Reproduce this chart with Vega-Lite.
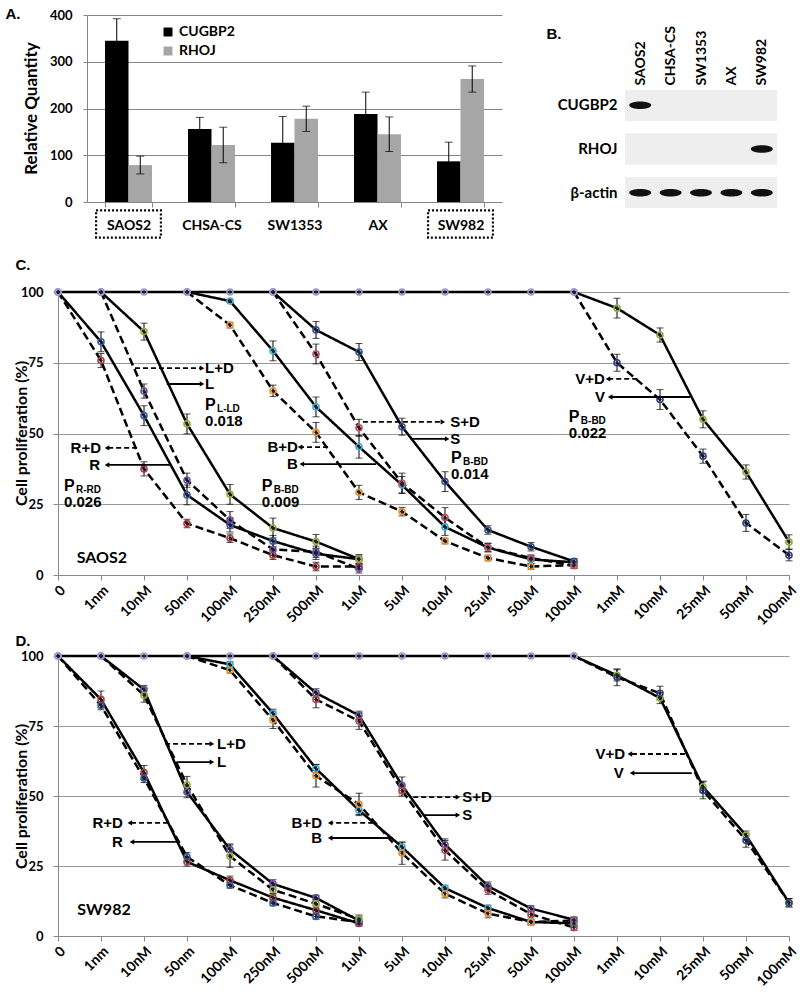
{
  "$schema": "https://vega.github.io/schema/vega-lite/v6.json",
  "padding": {"left": 4, "top": 6, "right": 0, "bottom": 0},
  "background": "white",
  "config": {
    "view": {"stroke": null},
    "font": "Lato",
    "axis": {"labelFont": "Lato", "titleFont": "Lato", "labelFontWeight": "bold", "titleFontWeight": "bold", "labelColor": "#000", "titleColor": "#000"},
    "legend": {"labelFont": "Lato", "labelFontWeight": "bold", "labelColor": "#000"}
  },
  "resolve": {"scale": {"color": "independent", "strokeDash": "independent", "opacity": "independent", "shape": "independent"}, "legend": {"color": "independent"}},
  "datasets": {
    "bars": [
      {"cell": "SAOS2", "gene": "CUGBP2", "value": 345, "err": 47},
      {"cell": "SAOS2", "gene": "RHOJ", "value": 79, "err": 19},
      {"cell": "CHSA-CS", "gene": "CUGBP2", "value": 156, "err": 25},
      {"cell": "CHSA-CS", "gene": "RHOJ", "value": 122, "err": 38},
      {"cell": "SW1353", "gene": "CUGBP2", "value": 127, "err": 56},
      {"cell": "SW1353", "gene": "RHOJ", "value": 178, "err": 27},
      {"cell": "AX", "gene": "CUGBP2", "value": 188, "err": 47},
      {"cell": "AX", "gene": "RHOJ", "value": 145, "err": 37},
      {"cell": "SW982", "gene": "CUGBP2", "value": 87, "err": 41},
      {"cell": "SW982", "gene": "RHOJ", "value": 263, "err": 28}
    ],
    "blot": [
      {"protein": "CUGBP2", "cell": "SAOS2", "level": 1},
      {"protein": "CUGBP2", "cell": "CHSA-CS", "level": 0},
      {"protein": "CUGBP2", "cell": "SW1353", "level": 0},
      {"protein": "CUGBP2", "cell": "AX", "level": 0},
      {"protein": "CUGBP2", "cell": "SW982", "level": 0},
      {"protein": "RHOJ", "cell": "SAOS2", "level": 0},
      {"protein": "RHOJ", "cell": "CHSA-CS", "level": 0},
      {"protein": "RHOJ", "cell": "SW1353", "level": 0},
      {"protein": "RHOJ", "cell": "AX", "level": 0},
      {"protein": "RHOJ", "cell": "SW982", "level": 1},
      {"protein": "β-actin", "cell": "SAOS2", "level": 1},
      {"protein": "β-actin", "cell": "CHSA-CS", "level": 1},
      {"protein": "β-actin", "cell": "SW1353", "level": 1},
      {"protein": "β-actin", "cell": "AX", "level": 1},
      {"protein": "β-actin", "cell": "SW982", "level": 1}
    ],
    "survC": [
      {"series": "R", "conc": "0", "value": 100, "err": 0},
      {"series": "R", "conc": "1nm", "value": 82.4, "err": 3.5},
      {"series": "R", "conc": "10nM", "value": 56.3, "err": 3.5},
      {"series": "R", "conc": "50nm", "value": 28.3, "err": 3.5},
      {"series": "R", "conc": "100nM", "value": 17.7, "err": 2.5},
      {"series": "R", "conc": "250nM", "value": 12, "err": 2},
      {"series": "R", "conc": "500nM", "value": 7.5, "err": 2},
      {"series": "R", "conc": "1uM", "value": 5.6, "err": 1.5},
      {"series": "R+D", "conc": "0", "value": 100, "err": 0},
      {"series": "R+D", "conc": "1nm", "value": 75.8, "err": 2.5},
      {"series": "R+D", "conc": "10nM", "value": 37.5, "err": 2.5},
      {"series": "R+D", "conc": "50nm", "value": 18.2, "err": 1.5},
      {"series": "R+D", "conc": "100nM", "value": 13, "err": 1.5},
      {"series": "R+D", "conc": "250nM", "value": 7, "err": 1.5},
      {"series": "R+D", "conc": "500nM", "value": 3, "err": 1.5},
      {"series": "R+D", "conc": "1uM", "value": 3, "err": 1},
      {"series": "L", "conc": "1nm", "value": 100, "err": 0},
      {"series": "L", "conc": "10nM", "value": 86, "err": 3},
      {"series": "L", "conc": "50nm", "value": 53.4, "err": 3.5},
      {"series": "L", "conc": "100nM", "value": 28.5, "err": 3.5},
      {"series": "L", "conc": "250nM", "value": 16.6, "err": 3.5},
      {"series": "L", "conc": "500nM", "value": 11.8, "err": 2.5},
      {"series": "L", "conc": "1uM", "value": 5.6, "err": 1.5},
      {"series": "L+D", "conc": "1nm", "value": 100, "err": 0},
      {"series": "L+D", "conc": "10nM", "value": 65, "err": 2.5},
      {"series": "L+D", "conc": "50nm", "value": 33.5, "err": 2.5},
      {"series": "L+D", "conc": "100nM", "value": 19.4, "err": 3},
      {"series": "L+D", "conc": "250nM", "value": 9, "err": 2},
      {"series": "L+D", "conc": "500nM", "value": 8.2, "err": 2},
      {"series": "L+D", "conc": "1uM", "value": 2.2, "err": 1.5},
      {"series": "B", "conc": "50nm", "value": 100, "err": 0},
      {"series": "B", "conc": "100nM", "value": 96.8, "err": 0.5},
      {"series": "B", "conc": "250nM", "value": 79.2, "err": 3.5},
      {"series": "B", "conc": "500nM", "value": 59.4, "err": 3.5},
      {"series": "B", "conc": "1uM", "value": 45.3, "err": 4},
      {"series": "B", "conc": "5uM", "value": 31.8, "err": 3},
      {"series": "B", "conc": "10uM", "value": 17, "err": 3},
      {"series": "B", "conc": "25uM", "value": 9.7, "err": 1.5},
      {"series": "B", "conc": "50uM", "value": 5.5, "err": 1.5},
      {"series": "B", "conc": "100uM", "value": 4.5, "err": 1},
      {"series": "B+D", "conc": "50nm", "value": 100, "err": 0},
      {"series": "B+D", "conc": "100nM", "value": 88.3, "err": 1},
      {"series": "B+D", "conc": "250nM", "value": 65.1, "err": 2},
      {"series": "B+D", "conc": "500nM", "value": 50.4, "err": 3.5},
      {"series": "B+D", "conc": "1uM", "value": 29.2, "err": 2.5},
      {"series": "B+D", "conc": "5uM", "value": 22.4, "err": 1.5},
      {"series": "B+D", "conc": "10uM", "value": 12, "err": 1},
      {"series": "B+D", "conc": "25uM", "value": 6, "err": 1},
      {"series": "B+D", "conc": "50uM", "value": 3, "err": 1},
      {"series": "B+D", "conc": "100uM", "value": 3.5, "err": 1},
      {"series": "S", "conc": "250nM", "value": 100, "err": 0},
      {"series": "S", "conc": "500nM", "value": 86.6, "err": 3},
      {"series": "S", "conc": "1uM", "value": 78.8, "err": 3},
      {"series": "S", "conc": "5uM", "value": 52.4, "err": 3},
      {"series": "S", "conc": "10uM", "value": 33, "err": 3.5},
      {"series": "S", "conc": "25uM", "value": 15.9, "err": 1.5},
      {"series": "S", "conc": "50uM", "value": 10, "err": 1.5},
      {"series": "S", "conc": "100uM", "value": 4.8, "err": 1},
      {"series": "S+D", "conc": "250nM", "value": 100, "err": 0},
      {"series": "S+D", "conc": "500nM", "value": 78.1, "err": 3.5},
      {"series": "S+D", "conc": "1uM", "value": 52, "err": 3},
      {"series": "S+D", "conc": "5uM", "value": 32.5, "err": 3.5},
      {"series": "S+D", "conc": "10uM", "value": 20.3, "err": 3.5},
      {"series": "S+D", "conc": "25uM", "value": 9.7, "err": 1.5},
      {"series": "S+D", "conc": "50uM", "value": 6, "err": 1},
      {"series": "S+D", "conc": "100uM", "value": 3.3, "err": 1},
      {"series": "V", "conc": "0", "value": 100, "err": 0},
      {"series": "V", "conc": "1nm", "value": 100, "err": 0},
      {"series": "V", "conc": "10nM", "value": 100, "err": 0},
      {"series": "V", "conc": "50nm", "value": 100, "err": 0},
      {"series": "V", "conc": "100nM", "value": 100, "err": 0},
      {"series": "V", "conc": "250nM", "value": 100, "err": 0},
      {"series": "V", "conc": "500nM", "value": 100, "err": 0},
      {"series": "V", "conc": "1uM", "value": 100, "err": 0},
      {"series": "V", "conc": "5uM", "value": 100, "err": 0},
      {"series": "V", "conc": "10uM", "value": 100, "err": 0},
      {"series": "V", "conc": "25uM", "value": 100, "err": 0},
      {"series": "V", "conc": "50uM", "value": 100, "err": 0},
      {"series": "V", "conc": "100uM", "value": 100, "err": 0},
      {"series": "V", "conc": "1mM", "value": 94.3, "err": 3.5},
      {"series": "V", "conc": "10mM", "value": 84.8, "err": 2.5},
      {"series": "V", "conc": "25mM", "value": 55, "err": 3},
      {"series": "V", "conc": "50mM", "value": 36.4, "err": 2.5},
      {"series": "V", "conc": "100mM", "value": 11.7, "err": 2.5},
      {"series": "V+D", "conc": "100uM", "value": 100, "err": 0},
      {"series": "V+D", "conc": "1mM", "value": 75, "err": 3},
      {"series": "V+D", "conc": "10mM", "value": 62, "err": 3.5},
      {"series": "V+D", "conc": "25mM", "value": 42, "err": 2.5},
      {"series": "V+D", "conc": "50mM", "value": 18.4, "err": 3},
      {"series": "V+D", "conc": "100mM", "value": 7, "err": 2}
    ],
    "survD": [
      {"series": "R", "conc": "0", "value": 100, "err": 0},
      {"series": "R", "conc": "1nm", "value": 84.5, "err": 3},
      {"series": "R", "conc": "10nM", "value": 58.4, "err": 2.5},
      {"series": "R", "conc": "50nm", "value": 26.5, "err": 1.5},
      {"series": "R", "conc": "100nM", "value": 19.9, "err": 1.5},
      {"series": "R", "conc": "250nM", "value": 13.7, "err": 1.5},
      {"series": "R", "conc": "500nM", "value": 9.2, "err": 1.5},
      {"series": "R", "conc": "1uM", "value": 4.5, "err": 1},
      {"series": "R+D", "conc": "0", "value": 100, "err": 0},
      {"series": "R+D", "conc": "1nm", "value": 82.3, "err": 1.5},
      {"series": "R+D", "conc": "10nM", "value": 56.3, "err": 1.5},
      {"series": "R+D", "conc": "50nm", "value": 28.3, "err": 1.5},
      {"series": "R+D", "conc": "100nM", "value": 18.1, "err": 1},
      {"series": "R+D", "conc": "250nM", "value": 11.8, "err": 1},
      {"series": "R+D", "conc": "500nM", "value": 7, "err": 1},
      {"series": "R+D", "conc": "1uM", "value": 5, "err": 1},
      {"series": "L", "conc": "1nm", "value": 100, "err": 0},
      {"series": "L", "conc": "10nM", "value": 88, "err": 1.5},
      {"series": "L", "conc": "50nm", "value": 51.4, "err": 2},
      {"series": "L", "conc": "100nM", "value": 30.9, "err": 2},
      {"series": "L", "conc": "250nM", "value": 18.6, "err": 1.5},
      {"series": "L", "conc": "500nM", "value": 13.6, "err": 1},
      {"series": "L", "conc": "1uM", "value": 5.5, "err": 1.5},
      {"series": "L+D", "conc": "1nm", "value": 100, "err": 0},
      {"series": "L+D", "conc": "10nM", "value": 86, "err": 2.5},
      {"series": "L+D", "conc": "50nm", "value": 54, "err": 3},
      {"series": "L+D", "conc": "100nM", "value": 28.5, "err": 4},
      {"series": "L+D", "conc": "250nM", "value": 16.5, "err": 1.5},
      {"series": "L+D", "conc": "500nM", "value": 11.5, "err": 1.5},
      {"series": "L+D", "conc": "1uM", "value": 6, "err": 1.5},
      {"series": "B", "conc": "50nm", "value": 100, "err": 0},
      {"series": "B", "conc": "100nM", "value": 97, "err": 1},
      {"series": "B", "conc": "250nM", "value": 79.5, "err": 1.5},
      {"series": "B", "conc": "500nM", "value": 59.8, "err": 1.5},
      {"series": "B", "conc": "1uM", "value": 44.9, "err": 1.5},
      {"series": "B", "conc": "5uM", "value": 31.8, "err": 1.5},
      {"series": "B", "conc": "10uM", "value": 17.1, "err": 1},
      {"series": "B", "conc": "25uM", "value": 10, "err": 1},
      {"series": "B", "conc": "50uM", "value": 5, "err": 1},
      {"series": "B", "conc": "100uM", "value": 4.5, "err": 1},
      {"series": "B+D", "conc": "50nm", "value": 100, "err": 0},
      {"series": "B+D", "conc": "100nM", "value": 94.9, "err": 1},
      {"series": "B+D", "conc": "250nM", "value": 77.1, "err": 3},
      {"series": "B+D", "conc": "500nM", "value": 57.2, "err": 4},
      {"series": "B+D", "conc": "1uM", "value": 47, "err": 4},
      {"series": "B+D", "conc": "5uM", "value": 29.6, "err": 4},
      {"series": "B+D", "conc": "10uM", "value": 15.1, "err": 1.5},
      {"series": "B+D", "conc": "25uM", "value": 8, "err": 1.5},
      {"series": "B+D", "conc": "50uM", "value": 5, "err": 1},
      {"series": "B+D", "conc": "100uM", "value": 5.5, "err": 1},
      {"series": "S", "conc": "250nM", "value": 100, "err": 0},
      {"series": "S", "conc": "500nM", "value": 86.8, "err": 1.5},
      {"series": "S", "conc": "1uM", "value": 78.8, "err": 1.5},
      {"series": "S", "conc": "5uM", "value": 53.8, "err": 3},
      {"series": "S", "conc": "10uM", "value": 32.7, "err": 2},
      {"series": "S", "conc": "25uM", "value": 17.8, "err": 1.5},
      {"series": "S", "conc": "50uM", "value": 9.8, "err": 1},
      {"series": "S", "conc": "100uM", "value": 5.8, "err": 1},
      {"series": "S+D", "conc": "250nM", "value": 100, "err": 0},
      {"series": "S+D", "conc": "500nM", "value": 84.5, "err": 3},
      {"series": "S+D", "conc": "1uM", "value": 76.8, "err": 3},
      {"series": "S+D", "conc": "5uM", "value": 52, "err": 2},
      {"series": "S+D", "conc": "10uM", "value": 30.6, "err": 3.5},
      {"series": "S+D", "conc": "25uM", "value": 16.4, "err": 1.5},
      {"series": "S+D", "conc": "50uM", "value": 7.8, "err": 1},
      {"series": "S+D", "conc": "100uM", "value": 3, "err": 1},
      {"series": "V", "conc": "0", "value": 100, "err": 0},
      {"series": "V", "conc": "1nm", "value": 100, "err": 0},
      {"series": "V", "conc": "10nM", "value": 100, "err": 0},
      {"series": "V", "conc": "50nm", "value": 100, "err": 0},
      {"series": "V", "conc": "100nM", "value": 100, "err": 0},
      {"series": "V", "conc": "250nM", "value": 100, "err": 0},
      {"series": "V", "conc": "500nM", "value": 100, "err": 0},
      {"series": "V", "conc": "1uM", "value": 100, "err": 0},
      {"series": "V", "conc": "5uM", "value": 100, "err": 0},
      {"series": "V", "conc": "10uM", "value": 100, "err": 0},
      {"series": "V", "conc": "25uM", "value": 100, "err": 0},
      {"series": "V", "conc": "50uM", "value": 100, "err": 0},
      {"series": "V", "conc": "100uM", "value": 100, "err": 0},
      {"series": "V", "conc": "1mM", "value": 93.1, "err": 2},
      {"series": "V", "conc": "10mM", "value": 85, "err": 2},
      {"series": "V", "conc": "25mM", "value": 53.3, "err": 2},
      {"series": "V", "conc": "50mM", "value": 36, "err": 1.5},
      {"series": "V", "conc": "100mM", "value": 11.9, "err": 1.5},
      {"series": "V+D", "conc": "100uM", "value": 100, "err": 0},
      {"series": "V+D", "conc": "1mM", "value": 92.4, "err": 3},
      {"series": "V+D", "conc": "10mM", "value": 86.7, "err": 2.5},
      {"series": "V+D", "conc": "25mM", "value": 52, "err": 3},
      {"series": "V+D", "conc": "50mM", "value": 34.2, "err": 2.5},
      {"series": "V+D", "conc": "100mM", "value": 11.9, "err": 1.5}
    ],
    "arrowsC": [
      {"from": 1.79, "to": 3.35, "y": 73.1, "style": "dashed"},
      {"from": 2.53, "to": 3.35, "y": 67.5, "style": "solid"},
      {"from": 1.84, "to": 1.14, "y": 44.9, "style": "dashed"},
      {"from": 2.65, "to": 1.14, "y": 38.9, "style": "solid"},
      {"from": 6.28, "to": 5.63, "y": 45.2, "style": "dashed"},
      {"from": 7.4, "to": 5.67, "y": 39.2, "style": "solid"},
      {"from": 7.09, "to": 8.95, "y": 54.1, "style": "dashed"},
      {"from": 8.23, "to": 9.05, "y": 48.1, "style": "solid"},
      {"from": 13.47, "to": 12.79, "y": 69.3, "style": "dashed"},
      {"from": 14.7, "to": 12.84, "y": 62.9, "style": "solid"}
    ],
    "arrowsD": [
      {"from": 2.49, "to": 3.58, "y": 68.6, "style": "dashed"},
      {"from": 2.77, "to": 3.58, "y": 62.1, "style": "solid"},
      {"from": 2.56, "to": 1.67, "y": 40.4, "style": "dashed"},
      {"from": 2.77, "to": 1.72, "y": 33.6, "style": "solid"},
      {"from": 7.33, "to": 6.33, "y": 40.4, "style": "dashed"},
      {"from": 7.79, "to": 6.33, "y": 35, "style": "solid"},
      {"from": 8.26, "to": 9.3, "y": 49.6, "style": "dashed"},
      {"from": 8.49, "to": 9.3, "y": 43.2, "style": "solid"},
      {"from": 14.58, "to": 13.3, "y": 65, "style": "dashed"},
      {"from": 14.74, "to": 13.35, "y": 58.2, "style": "solid"}
    ],
    "textC": [
      {"label": "L+D", "x": 3.42, "y": 73.1, "anchor": "start"},
      {"label": "L", "x": 3.42, "y": 67.5, "anchor": "start"},
      {"label": "R+D", "x": 1.0, "y": 44.9, "anchor": "end"},
      {"label": "R", "x": 0.98, "y": 38.9, "anchor": "end"},
      {"label": "B+D", "x": 5.58, "y": 45.2, "anchor": "end"},
      {"label": "B", "x": 5.58, "y": 39.2, "anchor": "end"},
      {"label": "S+D", "x": 9.12, "y": 54.1, "anchor": "start"},
      {"label": "S", "x": 9.12, "y": 48.1, "anchor": "start"},
      {"label": "V+D", "x": 12.72, "y": 69.3, "anchor": "end"},
      {"label": "V", "x": 12.72, "y": 62.9, "anchor": "end"},
      {"label": "SAOS2", "x": 1.02, "y": 6, "anchor": "middle"}
    ],
    "textD": [
      {"label": "L+D", "x": 3.7, "y": 68.6, "anchor": "start"},
      {"label": "L", "x": 3.7, "y": 62.1, "anchor": "start"},
      {"label": "R+D", "x": 1.51, "y": 40.4, "anchor": "end"},
      {"label": "R", "x": 1.51, "y": 33.6, "anchor": "end"},
      {"label": "B+D", "x": 6.14, "y": 40.4, "anchor": "end"},
      {"label": "B", "x": 6.14, "y": 35, "anchor": "end"},
      {"label": "S+D", "x": 9.4, "y": 49.6, "anchor": "start"},
      {"label": "S", "x": 9.4, "y": 43.2, "anchor": "start"},
      {"label": "V+D", "x": 13.19, "y": 65, "anchor": "end"},
      {"label": "V", "x": 13.16, "y": 58.2, "anchor": "end"},
      {"label": "SW982", "x": 1.07, "y": 9.2, "anchor": "middle"}
    ],
    "pC": [
      {"sub": "L-LD", "pval": "0.018", "x": 3.42, "y": 59.9},
      {"sub": "R-RD", "pval": "0.026", "x": 0.14, "y": 31.4},
      {"sub": "B-BD", "pval": "0.009", "x": 4.74, "y": 31.4},
      {"sub": "B-BD", "pval": "0.014", "x": 9.14, "y": 41.3},
      {"sub": "B-BD", "pval": "0.022", "x": 11.88, "y": 55.8}
    ]
  },
  "vconcat": [
    {
      "hconcat": [
        {"width": 1, "height": 1, "data": {"values": [{"k": 0}]}, "mark": {"type": "text", "text": ""}, "encoding": {}},
        {
          "hconcat": [
            {
              "width": 415,
              "height": 187,
              "data": {"name": "bars"},
              "layer": [
                {
                  "mark": {"type": "bar"},
                  "encoding": {
                    "x": {
                      "field": "cell", "type": "nominal", "sort": null,
                      "scale": {"domain": ["SAOS2", "CHSA-CS", "SW1353", "AX", "SW982"], "paddingInner": 0.434, "paddingOuter": 0.217},
                      "axis": {
                        "labelAngle": 0, "labelFontSize": 14, "labelPadding": 11, "tickBand": "extent", "tickSize": 5,
                        "domainColor": "#868686", "tickColor": "#868686",
                        "title": "A.", "titleX": -82, "titleY": -189, "titleAngle": 0, "titleAlign": "left", "titleBaseline": "middle",
                        "titleFont": "Liberation Sans", "titleFontSize": 15
                      }
                    },
                    "xOffset": {"field": "gene", "type": "nominal", "sort": null, "scale": {"domain": ["CUGBP2", "RHOJ"], "paddingInner": 0}},
                    "y": {
                      "field": "value", "type": "quantitative",
                      "scale": {"domain": [0, 400], "nice": false},
                      "axis": {
                        "values": [0, 100, 200, 300, 400], "grid": true, "gridColor": "#868686", "domainColor": "#868686", "tickColor": "#868686",
                        "tickSize": 4, "labelFontSize": 13, "labelPadding": 11,
                        "title": "Relative Quantity", "titleFontSize": 17, "titleX": -56, "titleY": 93, "titleBaseline": "middle", "titleAngle": -90
                      }
                    },
                    "color": {
                      "field": "gene", "type": "nominal",
                      "scale": {"domain": ["CUGBP2", "RHOJ"], "range": ["#000000", "#a6a6a6"]},
                      "legend": {"title": null, "orient": "none", "legendX": 74, "legendY": 10, "symbolType": "square", "symbolSize": 80, "labelFontSize": 14, "rowPadding": 5, "padding": 0}
                    }
                  }
                },
                {
                  "transform": [
                    {"calculate": "datum.value - datum.err", "as": "lo"},
                    {"calculate": "datum.value + datum.err", "as": "hi"}
                  ],
                  "layer": [
                    {
                      "mark": {"type": "rule", "color": "#000", "strokeWidth": 1},
                      "encoding": {
                        "x": {"field": "cell", "type": "nominal", "sort": null},
                        "xOffset": {"field": "gene", "type": "nominal", "sort": null},
                        "y": {"field": "lo", "type": "quantitative"},
                        "y2": {"field": "hi"}
                      }
                    },
                    {
                      "mark": {"type": "tick", "color": "#000", "thickness": 1, "size": 8},
                      "encoding": {
                        "x": {"field": "cell", "type": "nominal", "sort": null},
                        "xOffset": {"field": "gene", "type": "nominal", "sort": null},
                        "y": {"field": "hi", "type": "quantitative"}
                      }
                    },
                    {
                      "mark": {"type": "tick", "color": "#000", "thickness": 1, "size": 8},
                      "encoding": {
                        "x": {"field": "cell", "type": "nominal", "sort": null},
                        "xOffset": {"field": "gene", "type": "nominal", "sort": null},
                        "y": {"field": "lo", "type": "quantitative"}
                      }
                    }
                  ]
                },
                {
                  "transform": [
                    {"filter": "datum.gene == 'CUGBP2' && (datum.cell == 'SAOS2' || datum.cell == 'SW982')"}
                  ],
                  "mark": {"type": "rect", "fillOpacity": 0, "stroke": "#000", "strokeWidth": 2.2, "strokeDash": [2, 2], "width": {"band": 1.38}, "clip": false},
                  "encoding": {
                    "x": {"field": "cell", "type": "nominal", "sort": null},
                    "y": {"datum": -18},
                    "y2": {"datum": -76}
                  }
                }
              ]
            },
            {
              "vconcat": [
                {"width": 1, "height": 9, "data": {"values": [{"k": 0}]}, "mark": {"type": "text", "text": ""}, "encoding": {}},
                {
                  "width": 152,
                  "height": 118,
                  "data": {"name": "blot"},
                  "encoding": {
                    "y": {
                      "field": "protein", "type": "nominal", "sort": null,
                      "scale": {"domain": ["CUGBP2", "RHOJ", "β-actin"], "paddingInner": 0.3, "paddingOuter": 0},
                      "axis": {
                        "ticks": false, "domain": false, "labelFontSize": 15, "labelPadding": 8,
                        "title": "B.", "titleX": -79, "titleY": -57, "titleAngle": 0, "titleAlign": "left", "titleBaseline": "middle",
                        "titleFont": "Liberation Sans", "titleFontSize": 15
                      }
                    }
                  },
                  "layer": [
                    {"mark": {"type": "rect", "color": "#eeeeee"}},
                    {
                      "mark": {"type": "point", "shape": "M-1,0C-1,-0.45 1,-0.45 1,0C1,0.45 -1,0.45 -1,0Z", "filled": true, "color": "#111111", "size": 480},
                      "encoding": {
                        "x": {
                          "field": "cell", "type": "nominal", "sort": null,
                          "scale": {"domain": ["SAOS2", "CHSA-CS", "SW1353", "AX", "SW982"], "paddingInner": 0, "paddingOuter": 0},
                          "axis": {"orient": "top", "labelAngle": 270, "ticks": false, "domain": false, "labelFontSize": 14, "labelPadding": 5, "title": null}
                        },
                        "opacity": {"field": "level", "type": "quantitative", "scale": {"domain": [0, 1], "range": [0, 1]}, "legend": null}
                      }
                    }
                  ]
                }
              ],
              "spacing": 0
            }
          ],
          "spacing": 44,
          "resolve": {"scale": {"color": "independent", "opacity": "independent"}}
        }
      ],
      "spacing": 0,
      "resolve": {"scale": {"color": "independent", "opacity": "independent"}}
    },
    {
      "vconcat": [
        {
          "hconcat": [
            {"width": 9, "height": 1, "data": {"values": [{"k": 0}]}, "mark": {"type": "text", "text": ""}, "encoding": {}},
            {
              "width": 731,
              "height": 283,
              "layer": [
                {
                  "data": {"name": "survC"},
                  "encoding": {
                    "x": {
                      "field": "conc", "type": "ordinal", "sort": null,
                      "scale": {"type": "point", "padding": 0, "domain": ["0", "1nm", "10nM", "50nm", "100nM", "250nM", "500nM", "1uM", "5uM", "10uM", "25uM", "50uM", "100uM", "1mM", "10mM", "25mM", "50mM", "100mM"]},
                      "axis": {
                        "labelAngle": -45, "labelFontSize": 14, "labelPadding": 3, "tickSize": 5, "domainColor": "#888888", "tickColor": "#888888", "grid": false,
                        "title": "C.", "titleX": -43, "titleY": -311, "titleAngle": 0, "titleAlign": "left", "titleBaseline": "middle",
                        "titleFont": "Liberation Sans", "titleFontSize": 15
                      }
                    },
                    "y": {
                      "field": "value", "type": "quantitative",
                      "scale": {"domain": [0, 100], "nice": false},
                      "axis": {
                        "values": [0, 25, 50, 75, 100], "grid": true, "gridColor": "#999999", "domainColor": "#888888", "tickColor": "#888888",
                        "tickSize": 5, "labelFontSize": 13, "labelPadding": 10,
                        "title": "Cell proliferation (%)", "titleFontSize": 16, "titleX": -37, "titleY": 141, "titleBaseline": "middle", "titleAngle": -90
                      }
                    }
                  },
                  "layer": [
                    {
                      "mark": {"type": "line", "color": "#000", "strokeWidth": 2.5},
                      "encoding": {
                        "strokeDash": {
                          "field": "series", "type": "nominal",
                          "scale": {"domain": ["R", "R+D", "L", "L+D", "B", "B+D", "S", "S+D", "V", "V+D"], "range": [[1, 0], [8, 4], [1, 0], [8, 4], [1, 0], [8, 4], [1, 0], [8, 4], [1, 0], [8, 4]]},
                          "legend": null
                        },
                        "order": {"value": null}
                      }
                    },
                    {
                      "transform": [{"filter": "datum.err > 0"}],
                      "mark": {"type": "errorbar", "ticks": {"size": 7, "color": "#000"}, "color": "#000", "thickness": 1},
                      "encoding": {"yError": {"field": "err"}}
                    },
                    {
                      "mark": {"type": "point", "shape": "circle", "filled": false, "strokeWidth": 1.6, "size": 36, "opacity": 1},
                      "encoding": {
                        "color": {
                          "condition": {"test": "datum.value == 100", "value": "#9a9ac8"},
                          "field": "series", "type": "nominal",
                          "scale": {"domain": ["R", "R+D", "L", "L+D", "B", "B+D", "S", "S+D", "V", "V+D"], "range": ["#3b5b9a", "#b23a3a", "#8fae3c", "#6a4c9c", "#43a9c9", "#e8912d", "#34508c", "#c0505a", "#8fae3c", "#2f3f78"]},
                          "legend": null
                        }
                      }
                    },
                    {
                      "mark": {"type": "point", "shape": "diamond", "filled": true, "size": 16, "color": "#1c1f3a", "opacity": 1}
                    }
                  ]
                },
                {
                  "layer": [
                    {
                      "data": {"name": "arrowsC"},
                      "mark": {"type": "rule", "color": "#000", "strokeWidth": 1.8},
                      "encoding": {
                        "x": {"field": "from", "type": "quantitative", "scale": {"domain": [0, 17], "nice": false, "zero": false}, "axis": null},
                        "x2": {"field": "to"},
                        "y": {"field": "y", "type": "quantitative"},
                        "strokeDash": {"field": "style", "type": "nominal", "scale": {"domain": ["solid", "dashed"], "range": [[1, 0], [5, 3]]}, "legend": null}
                      }
                    },
                    {
                      "data": {"name": "arrowsC"},
                      "mark": {"type": "point", "filled": true, "color": "#000", "size": 28, "opacity": 1},
                      "encoding": {
                        "x": {"field": "to", "type": "quantitative", "scale": {"domain": [0, 17], "nice": false, "zero": false}, "axis": null},
                        "y": {"field": "y", "type": "quantitative"},
                        "shape": {"condition": {"test": "datum.to > datum.from", "value": "triangle-right"}, "value": "triangle-left"}
                      }
                    },
                    {
                      "data": {"name": "textC"},
                      "transform": [{"filter": "datum.anchor == 'start'"}],
                      "mark": {"type": "text", "align": "left", "baseline": "middle", "font": "Liberation Sans", "fontSize": 15, "fontWeight": "bold", "color": "#000"},
                      "encoding": {
                        "x": {"field": "x", "type": "quantitative", "scale": {"domain": [0, 17], "nice": false, "zero": false}, "axis": null},
                        "y": {"field": "y", "type": "quantitative"},
                        "text": {"field": "label"}
                      }
                    },
                    {
                      "data": {"name": "textC"},
                      "transform": [{"filter": "datum.anchor == 'end'"}],
                      "mark": {"type": "text", "align": "right", "baseline": "middle", "font": "Liberation Sans", "fontSize": 15, "fontWeight": "bold", "color": "#000"},
                      "encoding": {
                        "x": {"field": "x", "type": "quantitative", "scale": {"domain": [0, 17], "nice": false, "zero": false}, "axis": null},
                        "y": {"field": "y", "type": "quantitative"},
                        "text": {"field": "label"}
                      }
                    },
                    {
                      "data": {"name": "textC"},
                      "transform": [{"filter": "datum.anchor == 'middle'"}],
                      "mark": {"type": "text", "align": "center", "baseline": "middle", "font": "Lato", "fontSize": 16, "fontWeight": "bold", "color": "#000"},
                      "encoding": {
                        "x": {"field": "x", "type": "quantitative", "scale": {"domain": [0, 17], "nice": false, "zero": false}, "axis": null},
                        "y": {"field": "y", "type": "quantitative"},
                        "text": {"field": "label"}
                      }
                    },
                    {
                      "data": {"name": "pC"},
                      "mark": {"type": "text", "align": "left", "baseline": "middle", "font": "Liberation Sans", "fontSize": 16, "fontWeight": "bold", "color": "#000"},
                      "encoding": {
                        "x": {"field": "x", "type": "quantitative", "scale": {"domain": [0, 17], "nice": false, "zero": false}, "axis": null},
                        "y": {"field": "y", "type": "quantitative"},
                        "text": {"value": "P"}
                      }
                    },
                    {
                      "data": {"name": "pC"},
                      "mark": {"type": "text", "align": "left", "baseline": "middle", "dx": 12, "dy": 4, "font": "Liberation Sans", "fontSize": 10, "fontWeight": "bold", "color": "#000"},
                      "encoding": {
                        "x": {"field": "x", "type": "quantitative", "scale": {"domain": [0, 17], "nice": false, "zero": false}, "axis": null},
                        "y": {"field": "y", "type": "quantitative"},
                        "text": {"field": "sub"}
                      }
                    },
                    {
                      "data": {"name": "pC"},
                      "mark": {"type": "text", "align": "left", "baseline": "middle", "dy": 16, "font": "Liberation Sans", "fontSize": 15, "fontWeight": "bold", "color": "#000"},
                      "encoding": {
                        "x": {"field": "x", "type": "quantitative", "scale": {"domain": [0, 17], "nice": false, "zero": false}, "axis": null},
                        "y": {"field": "y", "type": "quantitative"},
                        "text": {"field": "pval"}
                      }
                    }
                  ]
                }
              ],
              "resolve": {"scale": {"x": "independent", "strokeDash": "independent"}}
            }
          ],
          "spacing": 0,
          "resolve": {"scale": {"color": "independent", "strokeDash": "independent", "shape": "independent"}}
        },
        {
          "hconcat": [
            {"width": 9, "height": 1, "data": {"values": [{"k": 0}]}, "mark": {"type": "text", "text": ""}, "encoding": {}},
            {
              "width": 731,
              "height": 280,
              "layer": [
                {
                  "data": {"name": "survD"},
                  "encoding": {
                    "x": {
                      "field": "conc", "type": "ordinal", "sort": null,
                      "scale": {"type": "point", "padding": 0, "domain": ["0", "1nm", "10nM", "50nm", "100nM", "250nM", "500nM", "1uM", "5uM", "10uM", "25uM", "50uM", "100uM", "1mM", "10mM", "25mM", "50mM", "100mM"]},
                      "axis": {
                        "labelAngle": -45, "labelFontSize": 14, "labelPadding": 3, "tickSize": 5, "domainColor": "#888888", "tickColor": "#888888", "grid": false,
                        "title": "D.", "titleX": -43, "titleY": -296, "titleAngle": 0, "titleAlign": "left", "titleBaseline": "middle",
                        "titleFont": "Liberation Sans", "titleFontSize": 15
                      }
                    },
                    "y": {
                      "field": "value", "type": "quantitative",
                      "scale": {"domain": [0, 100], "nice": false},
                      "axis": {
                        "values": [0, 25, 50, 75, 100], "grid": true, "gridColor": "#999999", "domainColor": "#888888", "tickColor": "#888888",
                        "tickSize": 5, "labelFontSize": 13, "labelPadding": 10,
                        "title": "Cell proliferation (%)", "titleFontSize": 16, "titleX": -37, "titleY": 140, "titleBaseline": "middle", "titleAngle": -90
                      }
                    }
                  },
                  "layer": [
                    {
                      "mark": {"type": "line", "color": "#000", "strokeWidth": 2.5},
                      "encoding": {
                        "strokeDash": {
                          "field": "series", "type": "nominal",
                          "scale": {"domain": ["R", "R+D", "L", "L+D", "B", "B+D", "S", "S+D", "V", "V+D"], "range": [[1, 0], [8, 4], [1, 0], [8, 4], [1, 0], [8, 4], [1, 0], [8, 4], [1, 0], [8, 4]]},
                          "legend": null
                        },
                        "order": {"value": null}
                      }
                    },
                    {
                      "transform": [{"filter": "datum.err > 0"}],
                      "mark": {"type": "errorbar", "ticks": {"size": 7, "color": "#000"}, "color": "#000", "thickness": 1},
                      "encoding": {"yError": {"field": "err"}}
                    },
                    {
                      "mark": {"type": "point", "shape": "circle", "filled": false, "strokeWidth": 1.6, "size": 36, "opacity": 1},
                      "encoding": {
                        "color": {
                          "condition": {"test": "datum.value == 100", "value": "#9a9ac8"},
                          "field": "series", "type": "nominal",
                          "scale": {"domain": ["R", "R+D", "L", "L+D", "B", "B+D", "S", "S+D", "V", "V+D"], "range": ["#b23a3a", "#3b5b9a", "#6a4c9c", "#8fae3c", "#43a9c9", "#e8912d", "#6a5a9c", "#b5484d", "#8fae3c", "#2f3f78"]},
                          "legend": null
                        }
                      }
                    },
                    {
                      "mark": {"type": "point", "shape": "diamond", "filled": true, "size": 16, "color": "#1c1f3a", "opacity": 1}
                    }
                  ]
                },
                {
                  "layer": [
                    {
                      "data": {"name": "arrowsD"},
                      "mark": {"type": "rule", "color": "#000", "strokeWidth": 1.8},
                      "encoding": {
                        "x": {"field": "from", "type": "quantitative", "scale": {"domain": [0, 17], "nice": false, "zero": false}, "axis": null},
                        "x2": {"field": "to"},
                        "y": {"field": "y", "type": "quantitative"},
                        "strokeDash": {"field": "style", "type": "nominal", "scale": {"domain": ["solid", "dashed"], "range": [[1, 0], [5, 3]]}, "legend": null}
                      }
                    },
                    {
                      "data": {"name": "arrowsD"},
                      "mark": {"type": "point", "filled": true, "color": "#000", "size": 28, "opacity": 1},
                      "encoding": {
                        "x": {"field": "to", "type": "quantitative", "scale": {"domain": [0, 17], "nice": false, "zero": false}, "axis": null},
                        "y": {"field": "y", "type": "quantitative"},
                        "shape": {"condition": {"test": "datum.to > datum.from", "value": "triangle-right"}, "value": "triangle-left"}
                      }
                    },
                    {
                      "data": {"name": "textD"},
                      "transform": [{"filter": "datum.anchor == 'start'"}],
                      "mark": {"type": "text", "align": "left", "baseline": "middle", "font": "Liberation Sans", "fontSize": 15, "fontWeight": "bold", "color": "#000"},
                      "encoding": {
                        "x": {"field": "x", "type": "quantitative", "scale": {"domain": [0, 17], "nice": false, "zero": false}, "axis": null},
                        "y": {"field": "y", "type": "quantitative"},
                        "text": {"field": "label"}
                      }
                    },
                    {
                      "data": {"name": "textD"},
                      "transform": [{"filter": "datum.anchor == 'end'"}],
                      "mark": {"type": "text", "align": "right", "baseline": "middle", "font": "Liberation Sans", "fontSize": 15, "fontWeight": "bold", "color": "#000"},
                      "encoding": {
                        "x": {"field": "x", "type": "quantitative", "scale": {"domain": [0, 17], "nice": false, "zero": false}, "axis": null},
                        "y": {"field": "y", "type": "quantitative"},
                        "text": {"field": "label"}
                      }
                    },
                    {
                      "data": {"name": "textD"},
                      "transform": [{"filter": "datum.anchor == 'middle'"}],
                      "mark": {"type": "text", "align": "center", "baseline": "middle", "font": "Lato", "fontSize": 16, "fontWeight": "bold", "color": "#000"},
                      "encoding": {
                        "x": {"field": "x", "type": "quantitative", "scale": {"domain": [0, 17], "nice": false, "zero": false}, "axis": null},
                        "y": {"field": "y", "type": "quantitative"},
                        "text": {"field": "label"}
                      }
                    }
                  ]
                }
              ],
              "resolve": {"scale": {"x": "independent", "strokeDash": "independent"}}
            }
          ],
          "spacing": 0,
          "resolve": {"scale": {"color": "independent", "strokeDash": "independent", "shape": "independent"}}
        }
      ],
      "spacing": 5,
      "resolve": {"scale": {"color": "independent", "strokeDash": "independent", "shape": "independent"}}
    }
  ],
  "spacing": 18
}
